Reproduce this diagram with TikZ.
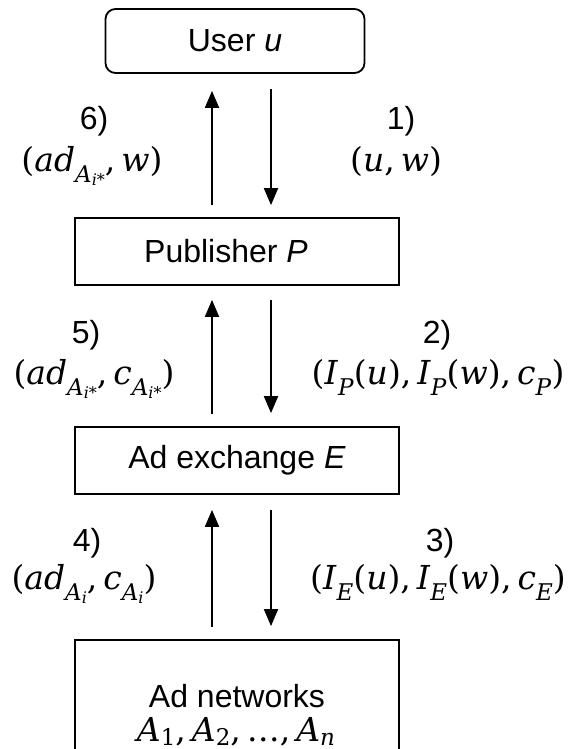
\RequirePackage{fix-cm}
\documentclass[tikz,border=0pt]{standalone}
\usepackage{fontspec}
\setmainfont{Liberation Sans}
\newfontfamily\mfont{DejaVu Serif}
\usetikzlibrary{arrows.meta}

% formulas set as text: serif italic letters, lowered subscripts
\newcommand\mx[1]{{\mfont\fontsize{33}{37}\selectfont #1}}
\newcommand\iv[1]{\textit{#1}}
\newcommand\lsub[2][11pt]{\raisebox{-#1}{\fontsize{23}{23}\selectfont #2}}
\newcommand\ssub[1]{\raisebox{-3pt}{\fontsize{16}{16}\selectfont #1}}
\newcommand\sep{,\hspace{6pt}}

\begin{document}
\begin{tikzpicture}[x=1pt,y=-1pt,
  every node/.style={font=\fontsize{32}{36}\selectfont, inner sep=0pt},
  box/.style={draw, line width=1.8pt, minimum width=324pt, minimum height=67pt, align=center},
  flow/.style={line width=2pt, -{Triangle[length=17pt,width=14pt]}},
  lbl/.style={anchor=base}]
  \useasboundingbox (0,0) rectangle (574,749);

  % parties
  \node[box, rounded corners=10pt, minimum width=259pt, minimum height=64pt] (user) at (235,41) {User \textit{u}};
  \node[box] (pub) at (237,251.5) {Publisher \textit{P}\hspace{22pt}};
  \node[box] (ex) at (237,460.5) {Ad exchange \textit{E}};
  \node[box, minimum height=130pt] (net) at (237,705) {};
  \node[lbl] (netname) at (237,707) {Ad networks};
  \node[lbl] (netlist) at (236,741) {\mx{\iv{A}\lsub[4pt]{1}\sep\iv{A}\lsub[4pt]{2}\sep…\sep\iv{A}\lsub[4pt]{\iv{n}}}};

  % columns of the arrows
  \coordinate (ux) at (212,0);
  \coordinate (dx) at (271,0);

  % requests going down, answers going up
  \draw[flow, shorten <=12pt, shorten >=17pt] (pub.north -| ux) -- (user.south -| ux);
  \draw[flow, shorten <=15pt, shorten >=12pt] (user.south -| dx) -- (pub.north -| dx);
  \draw[flow, shorten <=12pt, shorten >=14pt] (ex.north -| ux) -- (pub.south -| ux);
  \draw[flow, shorten <=14pt, shorten >=13pt] (pub.south -| dx) -- (ex.north -| dx);
  \draw[flow, shorten <=12pt, shorten >=15pt] (net.north -| ux) -- (ex.south -| ux);
  \draw[flow, shorten <=15pt, shorten >=13pt] (ex.south -| dx) -- (net.north -| dx);

  % step labels
  \node[lbl] (n6) at (94,129) {6)};
  \node[lbl] (m6) at (92,171) {\mx{(\iv{ad}\lsub{\iv{A}\ssub{\iv{i}*}}\sep\iv{w})}};
  \node[lbl] (n1) at (401,129) {1)};
  \node[lbl] (m1) at (396,171) {\mx{(\iv{u}\sep\iv{w})}};
  \node[lbl] (n5) at (86,343) {5)};
  \node[lbl] (m5) at (94,384) {\mx{(\iv{ad}\lsub{\iv{A}\ssub{\iv{i}*}}\sep\iv{c}\lsub{\iv{A}\ssub{\iv{i}*}})}};
  \node[lbl] (n2) at (437,343) {2)};
  \node[lbl] (m2) at (438,384) {\mx{(\iv{I}\lsub{\iv{P}}(\iv{u})\sep\iv{I}\lsub{\iv{P}}(\iv{w})\sep\iv{c}\lsub{\iv{P}})}};
  \node[lbl] (n4) at (87,551) {4)};
  \node[lbl] (m4) at (84,589) {\mx{(\iv{ad}\lsub{\iv{A}\ssub{\iv{i}}}\sep\iv{c}\lsub{\iv{A}\ssub{\iv{i}}})}};
  \node[lbl] (n3) at (440,551) {3)};
  \node[lbl] (m3) at (438,589) {\mx{(\iv{I}\lsub{\iv{E}}(\iv{u})\sep\iv{I}\lsub{\iv{E}}(\iv{w})\sep\iv{c}\lsub{\iv{E}})}};
\end{tikzpicture}
\end{document}
